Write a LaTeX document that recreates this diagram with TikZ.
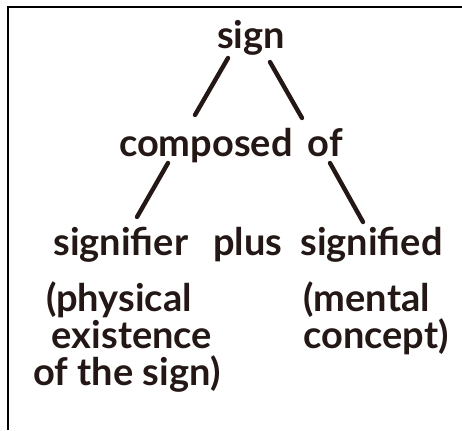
\documentclass[tikz,border=0pt]{standalone}
\usepackage{fontspec}
\newfontfamily\signfont{Lato}
\usepackage{xcolor}
\definecolor{signink}{HTML}{231815}
\usetikzlibrary{calc}

\tikzset{
  word/.style={font=\signfont\bfseries\fontsize{19}{23}\selectfont,text=signink,inner sep=0pt,anchor=base},
  branch/.style={draw=signink,line width=2.2pt,line cap=round},
}

\begin{document}
\begin{tikzpicture}[x=0.5pt,y=-0.5pt]
\useasboundingbox (0,0) rectangle (462,430);
% frame, only top and left edges show
\draw[line width=1pt] (8,430) -- (8,7) -- (462,7);
% tree
\node[word] (sign) at (251,48) {sign};
\node[word] (comp) at (231,156) {composed\hskip0.4em of};
\node[word,anchor=base west] (sfier) at (53,255) {signifier};
\node[word,anchor=base west] (plus) at (213,255) {plus};
\node[word,anchor=base west] (sfied) at (300,255) {signified};
% notes
\node[word] (phys1) at (119,311) {(physical};
\node[word] (phys2) at (132,348) {existence};
\node[word] (phys3) at (127,385) {of the sign)};
\node[word,anchor=base west] (ment1) at (303,311) {(mental};
\node[word,anchor=base west] (ment2) at (303,348) {concept)};
% branches
\draw[branch] ($(sign.base)+(-23,10)$) -- ($(comp.base)+(-36,-41)$);
\draw[branch] ($(sign.base)+(19,14)$) -- ($(comp.base)+(71,-38)$);
\draw[branch] ($(comp.base)+(-63,7)$) -- ($(sfier.base west)+(84,-38)$);
\draw[branch] ($(comp.base)+(99,7)$) -- ($(sfied.base west)+(63,-33)$);
\end{tikzpicture}
\end{document}
